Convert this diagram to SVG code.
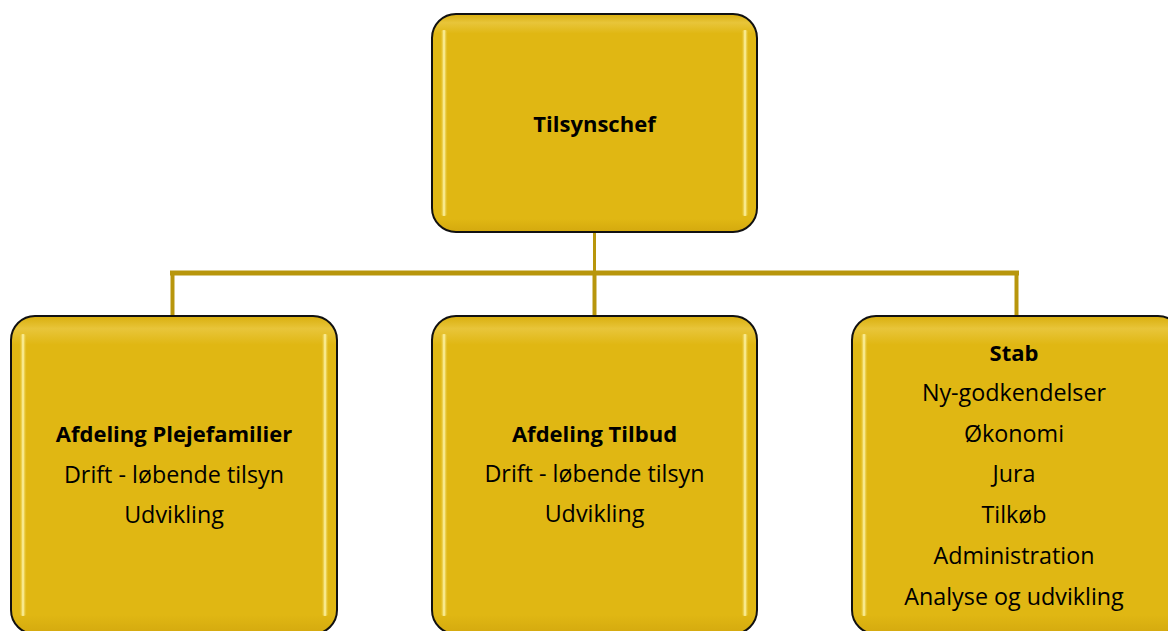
<svg xmlns="http://www.w3.org/2000/svg" width="1168" height="631" viewBox="0 0 1168 631">
<defs>
<linearGradient id="bevel" x1="0" y1="0" x2="0" y2="1">
<stop offset="0" stop-color="#D9AE0C"/>
<stop offset="0.04" stop-color="#E8C53A"/>
<stop offset="0.09" stop-color="#E0B713"/>
<stop offset="0.94" stop-color="#E0B713"/>
<stop offset="1" stop-color="#D4A90E"/>
</linearGradient>
<linearGradient id="hl" x1="0" y1="0" x2="1" y2="0">
<stop offset="0" stop-color="#E0B713" stop-opacity="0"/>
<stop offset="0.5" stop-color="#FFF8B0"/>
<stop offset="1" stop-color="#E0B713" stop-opacity="0"/>
</linearGradient>
</defs>
<style>
.box{fill:url(#bevel);stroke:#111;stroke-width:2}
.hl{fill:url(#hl)}
.conn{stroke:#B8960C;fill:none;stroke-linecap:square}
text{font-family:"Open Sans","Liberation Sans",sans-serif;font-size:23.3px;fill:#000;text-anchor:middle}
.b{font-weight:bold;font-size:22px}
</style>
<rect width="1168" height="631" fill="#fff"/>
<g id="connectors">
<line class="conn" x1="594.5" y1="232" x2="594.5" y2="273" stroke-width="3"/>
<line class="conn" x1="172.5" y1="273" x2="1016.5" y2="273" stroke-width="5"/>
<line class="conn" x1="172.5" y1="273" x2="172.5" y2="316" stroke-width="4"/>
<line class="conn" x1="594.5" y1="273" x2="594.5" y2="316" stroke-width="4"/>
<line class="conn" x1="1016.5" y1="273" x2="1016.5" y2="316" stroke-width="4"/>
</g>
<g id="tilsynschef">
<rect class="box" x="432" y="14" width="325" height="218" rx="24"/>
<rect class="hl" x="440" y="30" width="8" height="186" rx="4"/>
<rect class="hl" x="741" y="30" width="8" height="186" rx="4"/>
<text class="b" x="594.5" y="132">Tilsynschef</text>
</g>
<g id="plejefamilier">
<rect class="box" x="11" y="316" width="326" height="318" rx="24"/>
<rect class="hl" x="19" y="334" width="8" height="282" rx="4"/>
<rect class="hl" x="321" y="334" width="8" height="282" rx="4"/>
<text class="b" x="174" y="442">Afdeling Plejefamilier</text>
<text x="174" y="483">Drift - løbende tilsyn</text>
<text x="174" y="523">Udvikling</text>
</g>
<g id="tilbud">
<rect class="box" x="432" y="316" width="325" height="318" rx="24"/>
<rect class="hl" x="440" y="334" width="8" height="282" rx="4"/>
<rect class="hl" x="741" y="334" width="8" height="282" rx="4"/>
<text class="b" x="594.5" y="442">Afdeling Tilbud</text>
<text x="594.5" y="482">Drift - løbende tilsyn</text>
<text x="594.5" y="522">Udvikling</text>
</g>
<g id="stab">
<rect class="box" x="852" y="316" width="330" height="318" rx="24"/>
<rect class="hl" x="860" y="334" width="8" height="282" rx="4"/>
<text class="b" x="1014" y="361">Stab</text>
<text x="1014" y="401">Ny-godkendelser</text>
<text x="1014" y="442">Økonomi</text>
<text x="1014" y="482">Jura</text>
<text x="1014" y="523">Tilkøb</text>
<text x="1014" y="564">Administration</text>
<text x="1014" y="605">Analyse og udvikling</text>
</g>
</svg>
